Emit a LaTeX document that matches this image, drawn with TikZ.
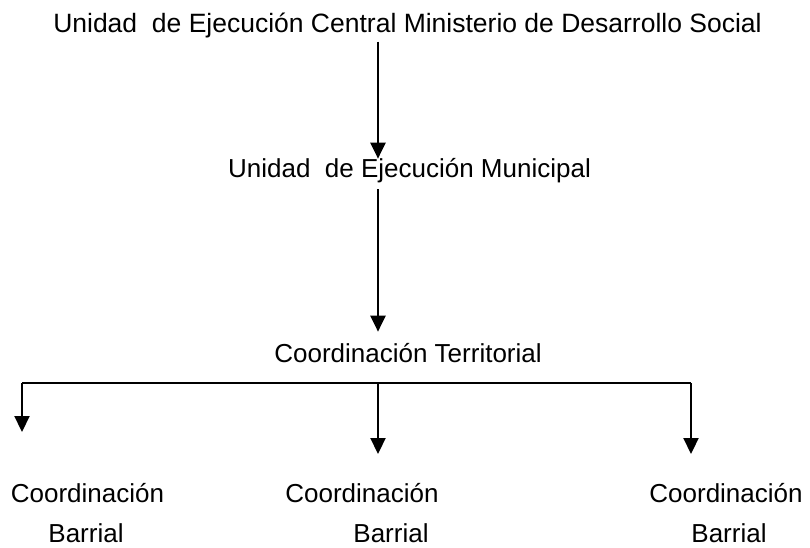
\documentclass[tikz,border=0pt]{standalone}
\usepackage{fontspec}
\setmainfont{Liberation Sans}
\usetikzlibrary{arrows.meta, positioning}
\tikzstyle{tnode} = [inner sep = 3pt, anchor = base, font = \fontsize{26}{31}\selectfont]
\tikzstyle{line} = [draw, line width = 1.8pt]
\tikzstyle{arrow} = [draw, line width = 2.2pt, -{Triangle[length=16pt, width=15pt]}]

\begin{document}
\begin{tikzpicture}[x=1pt, y=-1pt]
			\useasboundingbox (0, 0) rectangle (810, 548);
			\node [tnode, font = \fontsize{26.5}{31}\selectfont] (central) at (407.5, 33) {Unidad\ \ de Ejecución Central Ministerio de Desarrollo Social};
			\node [tnode] (municipal) at (409.5, 178) {Unidad\ \ de Ejecución Municipal};
			\node [tnode] (territorial) at (408, 362) {Coordinación Territorial};
			\node [tnode] (coord1) at (87.5, 502) {Coordinación};
			\node [tnode] (barrial1) at (86, 542) {Barrial};
			\node [tnode] (coord2) at (362, 502) {Coordinación};
			\node [tnode] (barrial2) at (391, 542) {Barrial};
			\node [tnode] (coord3) at (726, 502) {Coordinación};
			\node [tnode] (barrial3) at (729, 542) {Barrial};

			\coordinate (trunk) at (378, 0);
			\coordinate (busl) at (22, 383);
			\coordinate (busm) at (378, 383);
			\coordinate (busr) at (691, 383);
			\coordinate (tipl) at (22, 432);
			\coordinate (tipm) at (378, 454);
			\coordinate (tipr) at (691, 454);

			\path [arrow, shorten >= -3pt] (central.south -| trunk) -- (municipal.north -| trunk);
			\path [arrow, shorten <= 2.5pt, shorten >= 8pt] (municipal.south -| trunk) -- (territorial.north -| trunk);
			\path [line] (busl) -- (busr);
			\path [arrow] (busl) -- (tipl);
			\path [arrow] (busm) -- (tipm);
			\path [arrow] (busr) -- (tipr);
		\end{tikzpicture}
\end{document}
